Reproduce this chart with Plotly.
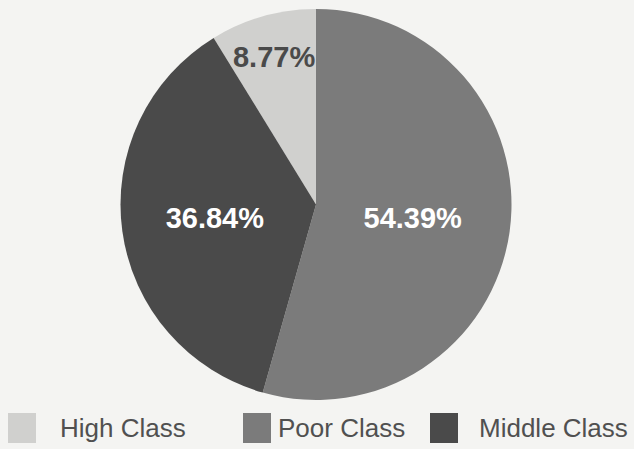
import plotly.graph_objects as go

labels = ["High Class", "Poor Class", "Middle Class"]
values = [8.77, 54.39, 36.84]
colors = ["#d0d0ce", "#7b7b7b", "#4a4a4a"]
text_colors = ["#4a4a4a", "#ffffff", "#ffffff"]
texts = [f"{v:.2f}%" for v in values]

W, H = 634, 449
fig = go.Figure()
fig.add_trace(go.Pie(
    labels=labels, values=values, text=texts, textinfo="text",
    sort=False, direction="clockwise", rotation=-values[0] / 100 * 360,
    marker=dict(colors=colors, line=dict(width=0)),
    textposition="inside", insidetextorientation="horizontal",
    textfont=dict(family="Liberation Sans", size=29, color=text_colors, weight="bold"),
    domain=dict(x=[(316 - 197) / W, (316 + 197) / W], y=[1 - 400 / H, 1 - 9 / H]),
    showlegend=False, hoverinfo="label+percent",
))

# custom legend (large swatches like the reference)
leg_sw_x = [8, 243, 430]
leg_tx_x = [58, 276, 477]
shapes, annots = [], []
for i, lab in enumerate(labels):
    x0 = leg_sw_x[i]
    shapes.append(dict(type="rect", xref="paper", yref="paper",
                       x0=x0 / W, x1=(x0 + 28) / W, y0=1 - 443 / H, y1=1 - 413 / H,
                       fillcolor=colors[i], line=dict(width=0)))
    annots.append(dict(text=lab, xref="paper", yref="paper", x=leg_tx_x[i] / W, y=1 - 428 / H,
                       xanchor="left", yanchor="middle", showarrow=False,
                       font=dict(family="Liberation Sans", size=26, color="#505050")))

fig.update_layout(
    width=W, height=H, margin=dict(l=0, r=0, t=0, b=0),
    paper_bgcolor="#f4f4f2", plot_bgcolor="#f4f4f2",
    shapes=shapes, annotations=annots,
    uniformtext=dict(minsize=29, mode="show"),
)
fig.write_html("out.html")
